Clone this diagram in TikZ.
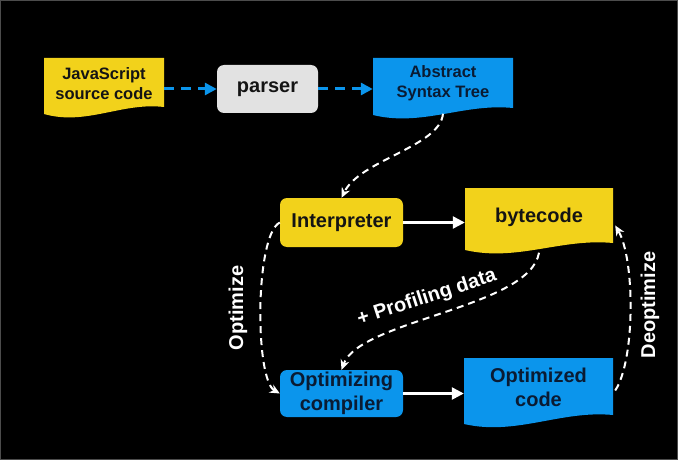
\documentclass[tikz,border=0pt]{standalone}
\usepackage{fontspec}
\setmainfont{Liberation Sans}
\usetikzlibrary{arrows.meta,calc}
\definecolor{jsyellow}{HTML}{F2D21B}
\definecolor{v8blue}{HTML}{0B95EC}
\definecolor{pgray}{HTML}{E2E2E2}
\definecolor{ink}{HTML}{141414}
\definecolor{navy}{HTML}{0A1B33}
\newcommand{\docfill}[6]{%
  \pgfmathsetmacro{\dcW}{#3-#1}%
  \pgfmathsetmacro{\dcA}{#3-0.35*\dcW}%
  \pgfmathsetmacro{\dcB}{#1+0.35*\dcW}%
  \pgfmathsetmacro{\dcYa}{#4-5}%
  \pgfmathsetmacro{\dcYb}{#5+12}%
  \fill[#6] (#1,#2) -- (#3,#2) -- (#3,#4) .. controls (\dcA,\dcYa) and (\dcB,\dcYb) .. (#1,#5) -- cycle;}
\tikzset{
  txt/.style={inner sep=0pt, align=center, text=ink, font=\bfseries\fontsize{20}{24}\selectfont},
  smalltxt/.style={txt, font=\bfseries\fontsize{16.5}{20}\selectfont},
  rbox/.style={txt, rounded corners=7pt},
  lbl/.style={inner sep=0pt, text=white, font=\bfseries\fontsize{20}{24}\selectfont},
  bluearrow/.style={draw=v8blue, line width=3pt, dash pattern=on 10pt off 7pt, -{Triangle[length=12pt,width=12pt]}},
  solidarrow/.style={draw=white, line width=2.5pt, -{Triangle[length=12pt,width=12pt]}},
  dasharrow/.style={draw=white, line width=2pt, dash pattern=on 7pt off 5pt, -{Stealth[length=10pt,width=9pt]}}
}
\begin{document}
\begin{tikzpicture}[x=1pt,y=-1pt]
\useasboundingbox (0,0) rectangle (678,460);
\fill[black] (0,0) rectangle (678,460);
\draw[gray!60!black, line width=1pt] (0.5,0.5) rectangle (677.5,459.5);
% document shapes
\docfill{44}{58}{164}{107}{114}{jsyellow}
\docfill{373}{58}{513}{108}{115}{v8blue}
\docfill{465}{188}{613}{243}{250}{jsyellow}
\docfill{464}{358}{613}{415}{424}{v8blue}
% nodes
\node[smalltxt, minimum width=120pt, minimum height=50pt] (js) at (104,83.5) {JavaScript\\source code};
\node[rbox, fill=pgray, minimum width=101pt, minimum height=48pt] (parser) at (267.5,89) {parser};
\node[smalltxt, text=navy, minimum width=140pt, minimum height=50pt] (ast) at (443,83.5) {Abstract\\Syntax Tree};
\node[rbox, fill=jsyellow, minimum width=123pt, minimum height=49pt] (interp) at (341.5,222.5) {Interpreter};
\node[txt, minimum width=148pt, minimum height=54pt] (bytecode) at (539,217.5) {bytecode};
\node[rbox, fill=v8blue, text=navy, minimum width=123pt, minimum height=47pt] (oc) at (341.5,393.5) {Optimizing\\compiler};
\node[txt, text=navy, minimum width=149pt, minimum height=56pt] (optcode) at (538.5,387.5) {Optimized\\code};
% labels
\node[lbl, rotate=90] (optl) at (238,308) {Optimize};
\node[lbl, rotate=90] (deoptl) at (650,305) {Deoptimize};
\node[lbl, rotate=18] (profl) at (427,298) {+ Profiling data};
% connectors
\draw[bluearrow] (js.east |- parser.west) -- (parser.west);
\draw[bluearrow] (parser.east) -- (ast.west |- parser.east);
\draw[solidarrow] (interp.east) -- (bytecode.west |- interp.east);
\draw[solidarrow] (oc.east) -- (optcode.west |- oc.east);
\draw[dasharrow] ($(ast.south)+(0,5)$) .. controls +(-3,33) and +(18.5,-38) .. (interp.north);
\draw[dasharrow] ($(bytecode.south)+(0,8)$) .. controls +(-9,55) and +(18.5,-50) .. (oc.north);
\draw[dasharrow] (interp.west) .. controls +(-25,12.5) and +(-25,-14) .. (oc.west);
\draw[dasharrow] ($(optcode.east)+(2,3)$) .. controls +(20,-30) and +(20,34) .. ($(bytecode.east)+(2,8)$);
\end{tikzpicture}
\end{document}
